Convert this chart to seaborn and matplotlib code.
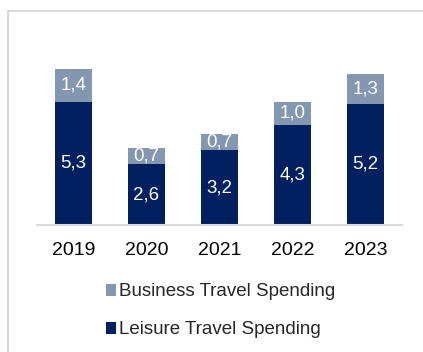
import matplotlib
matplotlib.use("Agg")
import matplotlib.pyplot as plt
from matplotlib.patches import Rectangle, Patch
import seaborn as sns
import pandas as pd

years = ["2019", "2020", "2021", "2022", "2023"]
leisure = [5.3, 2.6, 3.2, 4.3, 5.2]
business = [1.4, 0.7, 0.7, 1.0, 1.3]
series_names = ["Business Travel Spending", "Leisure Travel Spending"]

DARK = "#002060"
LIGHT = "#8497B0"
GRID = "#D9D9D9"

sns.set_theme(style="white")
plt.rcParams["font.family"] = ["Liberation Sans", "DejaVu Sans"]

df = pd.DataFrame({"year": years, "leisure": leisure, "business": business})

W, H = 423, 352
fig = plt.figure(figsize=(W / 100, H / 100), dpi=100)
ax = fig.add_axes([37 / W, 127 / H, 365 / W, 186.4 / H])

sns.barplot(data=df, x="year", y="leisure", color=DARK, width=0.5,
            saturation=1, ax=ax, linewidth=0)
sns.barplot(data=df, x="year", y="business", bottom=df["leisure"], color=LIGHT,
            width=0.5, saturation=1, ax=ax, linewidth=0)

ax.set_ylim(0, 8)
ax.set_xlim(-0.5, 4.5)
ax.set_xlabel("")
ax.set_ylabel("")
ax.set_yticks([])
for s in ["top", "right", "left"]:
    ax.spines[s].set_visible(False)
ax.spines["bottom"].set_color(GRID)
ax.spines["bottom"].set_linewidth(1.5)
ax.tick_params(axis="x", length=0, pad=12, labelsize=14, labelcolor="#000000")

def fmt(v):
    return f"{v:.1f}".replace(".", ",")

for i, (l, b) in enumerate(zip(leisure, business)):
    ax.text(i, l / 2, fmt(l), ha="center", va="center", color="white", fontsize=13.5)
    ax.text(i, l + b / 2, fmt(b), ha="center", va="center", color="white", fontsize=13.5)

handles = [Patch(facecolor=LIGHT, edgecolor="none"), Patch(facecolor=DARK, edgecolor="none")]
fig.legend(handles, series_names, loc="center left",
           bbox_to_anchor=(106 / W, 1 - 311 / H), frameon=False, fontsize=13.5,
           handlelength=0.55, handleheight=0.6, handletextpad=0.15,
           labelspacing=1.12, borderpad=0, borderaxespad=0)

# outer frame
fig.add_artist(Rectangle((8 / W, -0.1), 1.2, 1 - 11 / H + 0.1, transform=fig.transFigure,
                         fill=False, edgecolor=GRID, linewidth=1.5, clip_on=False))

fig.savefig("out.png", dpi=100, facecolor="white")
